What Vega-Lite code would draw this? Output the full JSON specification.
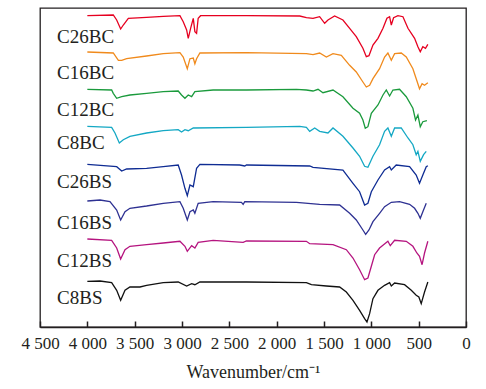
{
"$schema": "https://vega.github.io/schema/vega-lite/v6.json",
"width": 426, "height": 319,
"autosize": {"type": "none"},
"padding": {"left": 40, "top": 8, "right": 20, "bottom": 62},
"background": "white",
"config": {"view": {"stroke": "#231f20", "strokeWidth": 1.3}, "font": "Liberation Serif"},
"datasets": {
"spectra": [
{"s":"C26BC","w":4000,"t":311.3},{"s":"C26BC","w":3726,"t":312},{"s":"C26BC","w":3690,"t":307},{"s":"C26BC","w":3648,"t":298},{"s":"C26BC","w":3620,"t":302},{"s":"C26BC","w":3567,"t":308.7},{"s":"C26BC","w":3374,"t":309.7},{"s":"C26BC","w":3198,"t":310.7},{"s":"C26BC","w":3022,"t":311.3},{"s":"C26BC","w":2987,"t":305.3},{"s":"C26BC","w":2951,"t":297},{"s":"C26BC","w":2934,"t":288.7},{"s":"C26BC","w":2909,"t":298.7},{"s":"C26BC","w":2881,"t":308.7},{"s":"C26BC","w":2864,"t":295.3},{"s":"C26BC","w":2846,"t":293.7},{"s":"C26BC","w":2829,"t":308.7},{"s":"C26BC","w":2804,"t":311.3},{"s":"C26BC","w":2319,"t":311.3},{"s":"C26BC","w":1756,"t":311},{"s":"C26BC","w":1686,"t":309.3},{"s":"C26BC","w":1616,"t":308.7},{"s":"C26BC","w":1546,"t":310.3},{"s":"C26BC","w":1493,"t":303.7},{"s":"C26BC","w":1458,"t":307},{"s":"C26BC","w":1388,"t":311},{"s":"C26BC","w":1300,"t":307},{"s":"C26BC","w":1229,"t":298.7},{"s":"C26BC","w":1159,"t":290.3},{"s":"C26BC","w":1089,"t":278.7},{"s":"C26BC","w":1053,"t":270.3},{"s":"C26BC","w":1025,"t":271.3},{"s":"C26BC","w":983,"t":282},{"s":"C26BC","w":930,"t":288.7},{"s":"C26BC","w":877,"t":298.7},{"s":"C26BC","w":835,"t":308.7},{"s":"C26BC","w":807,"t":310.3},{"s":"C26BC","w":789,"t":302},{"s":"C26BC","w":765,"t":309.3},{"s":"C26BC","w":719,"t":311.3},{"s":"C26BC","w":666,"t":310.3},{"s":"C26BC","w":613,"t":298.7},{"s":"C26BC","w":543,"t":288.7},{"s":"C26BC","w":508,"t":280.3},{"s":"C26BC","w":483,"t":275.3},{"s":"C26BC","w":456,"t":280.3},{"s":"C26BC","w":428,"t":278.7},{"s":"C26BC","w":403,"t":282.7},
{"s":"C16BC","w":4000,"t":275},{"s":"C16BC","w":3726,"t":274},{"s":"C16BC","w":3672,"t":266.7},{"s":"C16BC","w":3637,"t":266.7},{"s":"C16BC","w":3585,"t":268.3},{"s":"C16BC","w":3374,"t":271},{"s":"C16BC","w":3198,"t":273.3},{"s":"C16BC","w":3022,"t":274.3},{"s":"C16BC","w":2987,"t":270},{"s":"C16BC","w":2944,"t":258.3},{"s":"C16BC","w":2916,"t":268.3},{"s":"C16BC","w":2881,"t":269},{"s":"C16BC","w":2864,"t":263.3},{"s":"C16BC","w":2846,"t":268.3},{"s":"C16BC","w":2811,"t":274},{"s":"C16BC","w":2319,"t":274.3},{"s":"C16BC","w":1686,"t":273.3},{"s":"C16BC","w":1616,"t":272.3},{"s":"C16BC","w":1546,"t":274},{"s":"C16BC","w":1475,"t":270},{"s":"C16BC","w":1405,"t":273.3},{"s":"C16BC","w":1317,"t":271.7},{"s":"C16BC","w":1229,"t":261.7},{"s":"C16BC","w":1159,"t":255},{"s":"C16BC","w":1089,"t":245},{"s":"C16BC","w":1053,"t":240},{"s":"C16BC","w":1018,"t":241.7},{"s":"C16BC","w":983,"t":248.3},{"s":"C16BC","w":913,"t":258.3},{"s":"C16BC","w":860,"t":270},{"s":"C16BC","w":825,"t":274},{"s":"C16BC","w":789,"t":266.7},{"s":"C16BC","w":754,"t":273.3},{"s":"C16BC","w":684,"t":274},{"s":"C16BC","w":631,"t":270},{"s":"C16BC","w":561,"t":258.3},{"s":"C16BC","w":526,"t":248.3},{"s":"C16BC","w":491,"t":238.3},{"s":"C16BC","w":464,"t":243.3},{"s":"C16BC","w":438,"t":241.7},{"s":"C16BC","w":403,"t":244.3},
{"s":"C12BC","w":4000,"t":237.7},{"s":"C12BC","w":3743,"t":237},{"s":"C12BC","w":3726,"t":233.7},{"s":"C12BC","w":3690,"t":228.7},{"s":"C12BC","w":3637,"t":230.3},{"s":"C12BC","w":3550,"t":232},{"s":"C12BC","w":3374,"t":233.7},{"s":"C12BC","w":3198,"t":235.3},{"s":"C12BC","w":3040,"t":236},{"s":"C12BC","w":3005,"t":232},{"s":"C12BC","w":2969,"t":228.7},{"s":"C12BC","w":2934,"t":232},{"s":"C12BC","w":2898,"t":230.3},{"s":"C12BC","w":2864,"t":235.3},{"s":"C12BC","w":2671,"t":237},{"s":"C12BC","w":2319,"t":237},{"s":"C12BC","w":1791,"t":237.7},{"s":"C12BC","w":1686,"t":237},{"s":"C12BC","w":1616,"t":236},{"s":"C12BC","w":1563,"t":237.7},{"s":"C12BC","w":1511,"t":234.3},{"s":"C12BC","w":1405,"t":237},{"s":"C12BC","w":1300,"t":230.3},{"s":"C12BC","w":1194,"t":218.7},{"s":"C12BC","w":1124,"t":213.7},{"s":"C12BC","w":1089,"t":207},{"s":"C12BC","w":1064,"t":198.7},{"s":"C12BC","w":1036,"t":200.3},{"s":"C12BC","w":1000,"t":213.7},{"s":"C12BC","w":930,"t":222},{"s":"C12BC","w":877,"t":232},{"s":"C12BC","w":842,"t":237},{"s":"C12BC","w":807,"t":231},{"s":"C12BC","w":772,"t":237},{"s":"C12BC","w":702,"t":237.7},{"s":"C12BC","w":631,"t":230.3},{"s":"C12BC","w":561,"t":218.7},{"s":"C12BC","w":533,"t":207},{"s":"C12BC","w":508,"t":212},{"s":"C12BC","w":483,"t":200.3},{"s":"C12BC","w":456,"t":205.3},{"s":"C12BC","w":413,"t":206.3},
{"s":"C8BC","w":4000,"t":200.7},{"s":"C8BC","w":3743,"t":199.7},{"s":"C8BC","w":3708,"t":194},{"s":"C8BC","w":3662,"t":184},{"s":"C8BC","w":3620,"t":187.3},{"s":"C8BC","w":3550,"t":190.7},{"s":"C8BC","w":3374,"t":194},{"s":"C8BC","w":3198,"t":196.3},{"s":"C8BC","w":3040,"t":197.3},{"s":"C8BC","w":3005,"t":195},{"s":"C8BC","w":2969,"t":197.3},{"s":"C8BC","w":2934,"t":196.3},{"s":"C8BC","w":2881,"t":199},{"s":"C8BC","w":2319,"t":199.7},{"s":"C8BC","w":1756,"t":200.7},{"s":"C8BC","w":1686,"t":199.7},{"s":"C8BC","w":1651,"t":195.7},{"s":"C8BC","w":1598,"t":199},{"s":"C8BC","w":1546,"t":195.7},{"s":"C8BC","w":1458,"t":194},{"s":"C8BC","w":1405,"t":199},{"s":"C8BC","w":1300,"t":190.7},{"s":"C8BC","w":1194,"t":179},{"s":"C8BC","w":1124,"t":170.7},{"s":"C8BC","w":1071,"t":160.7},{"s":"C8BC","w":1036,"t":159.7},{"s":"C8BC","w":983,"t":170.7},{"s":"C8BC","w":913,"t":182.3},{"s":"C8BC","w":860,"t":195.7},{"s":"C8BC","w":825,"t":199},{"s":"C8BC","w":789,"t":190.7},{"s":"C8BC","w":754,"t":199},{"s":"C8BC","w":684,"t":199},{"s":"C8BC","w":613,"t":189},{"s":"C8BC","w":561,"t":182.3},{"s":"C8BC","w":526,"t":172.3},{"s":"C8BC","w":508,"t":175.7},{"s":"C8BC","w":483,"t":165.7},{"s":"C8BC","w":448,"t":172.3},{"s":"C8BC","w":420,"t":175.7},
{"s":"C26BS","w":4000,"t":162.7},{"s":"C26BS","w":3690,"t":160.3},{"s":"C26BS","w":3637,"t":156},{"s":"C26BS","w":3585,"t":158},{"s":"C26BS","w":3374,"t":158.7},{"s":"C26BS","w":3198,"t":160.3},{"s":"C26BS","w":3040,"t":162},{"s":"C26BS","w":3005,"t":152},{"s":"C26BS","w":2969,"t":138.7},{"s":"C26BS","w":2944,"t":131.3},{"s":"C26BS","w":2916,"t":142},{"s":"C26BS","w":2881,"t":140.3},{"s":"C26BS","w":2846,"t":158.7},{"s":"C26BS","w":2811,"t":162.7},{"s":"C26BS","w":2390,"t":162},{"s":"C26BS","w":2337,"t":161},{"s":"C26BS","w":2319,"t":162},{"s":"C26BS","w":1651,"t":161},{"s":"C26BS","w":1616,"t":159.7},{"s":"C26BS","w":1300,"t":157},{"s":"C26BS","w":1194,"t":143.7},{"s":"C26BS","w":1124,"t":135.3},{"s":"C26BS","w":1071,"t":122},{"s":"C26BS","w":1036,"t":123.7},{"s":"C26BS","w":1000,"t":135.3},{"s":"C26BS","w":930,"t":147},{"s":"C26BS","w":860,"t":157},{"s":"C26BS","w":807,"t":160.3},{"s":"C26BS","w":789,"t":157},{"s":"C26BS","w":737,"t":162},{"s":"C26BS","w":596,"t":160.3},{"s":"C26BS","w":526,"t":152},{"s":"C26BS","w":491,"t":143.7},{"s":"C26BS","w":456,"t":152},{"s":"C26BS","w":420,"t":160.3},{"s":"C26BS","w":403,"t":161.3},
{"s":"C16BS","w":4000,"t":126},{"s":"C16BS","w":3866,"t":127},{"s":"C16BS","w":3761,"t":125.3},{"s":"C16BS","w":3690,"t":117},{"s":"C16BS","w":3648,"t":107},{"s":"C16BS","w":3602,"t":115.3},{"s":"C16BS","w":3550,"t":118.7},{"s":"C16BS","w":3374,"t":121},{"s":"C16BS","w":3198,"t":123.7},{"s":"C16BS","w":3022,"t":125.3},{"s":"C16BS","w":2987,"t":118.7},{"s":"C16BS","w":2944,"t":107},{"s":"C16BS","w":2916,"t":115.3},{"s":"C16BS","w":2881,"t":117},{"s":"C16BS","w":2864,"t":113.7},{"s":"C16BS","w":2829,"t":123.7},{"s":"C16BS","w":2671,"t":125.3},{"s":"C16BS","w":2372,"t":124.7},{"s":"C16BS","w":2354,"t":122.7},{"s":"C16BS","w":2337,"t":125.3},{"s":"C16BS","w":1791,"t":124.7},{"s":"C16BS","w":1546,"t":122.7},{"s":"C16BS","w":1335,"t":122},{"s":"C16BS","w":1229,"t":113.7},{"s":"C16BS","w":1159,"t":107},{"s":"C16BS","w":1089,"t":97},{"s":"C16BS","w":1060,"t":92.7},{"s":"C16BS","w":1025,"t":97},{"s":"C16BS","w":983,"t":105.3},{"s":"C16BS","w":913,"t":113.7},{"s":"C16BS","w":860,"t":120.3},{"s":"C16BS","w":789,"t":124.7},{"s":"C16BS","w":702,"t":125.3},{"s":"C16BS","w":596,"t":122.7},{"s":"C16BS","w":543,"t":118.7},{"s":"C16BS","w":508,"t":113.7},{"s":"C16BS","w":483,"t":108.7},{"s":"C16BS","w":456,"t":115.3},{"s":"C16BS","w":420,"t":123.7},
{"s":"C12BS","w":4000,"t":88},{"s":"C12BS","w":3743,"t":86.7},{"s":"C12BS","w":3690,"t":79},{"s":"C12BS","w":3648,"t":68},{"s":"C12BS","w":3602,"t":77.3},{"s":"C12BS","w":3550,"t":80.7},{"s":"C12BS","w":3374,"t":82.3},{"s":"C12BS","w":3198,"t":84},{"s":"C12BS","w":3022,"t":85.7},{"s":"C12BS","w":2969,"t":80.7},{"s":"C12BS","w":2944,"t":75.7},{"s":"C12BS","w":2898,"t":81.3},{"s":"C12BS","w":2864,"t":79},{"s":"C12BS","w":2829,"t":84.7},{"s":"C12BS","w":2671,"t":86.7},{"s":"C12BS","w":2354,"t":84.7},{"s":"C12BS","w":2319,"t":86},{"s":"C12BS","w":1686,"t":85.7},{"s":"C12BS","w":1651,"t":83.3},{"s":"C12BS","w":1405,"t":82.3},{"s":"C12BS","w":1264,"t":77.3},{"s":"C12BS","w":1194,"t":69},{"s":"C12BS","w":1124,"t":57.3},{"s":"C12BS","w":1071,"t":47.3},{"s":"C12BS","w":1036,"t":49},{"s":"C12BS","w":1000,"t":60.7},{"s":"C12BS","w":965,"t":72.3},{"s":"C12BS","w":913,"t":79},{"s":"C12BS","w":825,"t":85.7},{"s":"C12BS","w":800,"t":81.3},{"s":"C12BS","w":754,"t":86.7},{"s":"C12BS","w":631,"t":85.7},{"s":"C12BS","w":561,"t":80.7},{"s":"C12BS","w":519,"t":74},{"s":"C12BS","w":491,"t":70.7},{"s":"C12BS","w":464,"t":62.3},{"s":"C12BS","w":438,"t":74},{"s":"C12BS","w":403,"t":85.7},
{"s":"C8BS","w":4000,"t":45.7},{"s":"C8BS","w":3866,"t":46},{"s":"C8BS","w":3743,"t":44.3},{"s":"C8BS","w":3690,"t":36.7},{"s":"C8BS","w":3648,"t":26.7},{"s":"C8BS","w":3602,"t":36.7},{"s":"C8BS","w":3550,"t":40},{"s":"C8BS","w":3444,"t":40},{"s":"C8BS","w":3374,"t":41.7},{"s":"C8BS","w":3198,"t":44.3},{"s":"C8BS","w":3040,"t":45},{"s":"C8BS","w":2951,"t":41},{"s":"C8BS","w":2898,"t":43.3},{"s":"C8BS","w":2864,"t":42.3},{"s":"C8BS","w":2811,"t":45},{"s":"C8BS","w":2319,"t":45},{"s":"C8BS","w":1686,"t":44.3},{"s":"C8BS","w":1633,"t":42.3},{"s":"C8BS","w":1475,"t":41},{"s":"C8BS","w":1335,"t":40},{"s":"C8BS","w":1264,"t":35},{"s":"C8BS","w":1194,"t":26.7},{"s":"C8BS","w":1124,"t":16.7},{"s":"C8BS","w":1071,"t":8.3},{"s":"C8BS","w":1046,"t":5},{"s":"C8BS","w":1018,"t":13.3},{"s":"C8BS","w":983,"t":28.3},{"s":"C8BS","w":930,"t":36.7},{"s":"C8BS","w":860,"t":41.7},{"s":"C8BS","w":807,"t":44.3},{"s":"C8BS","w":789,"t":41},{"s":"C8BS","w":754,"t":44},{"s":"C8BS","w":649,"t":42.3},{"s":"C8BS","w":578,"t":36.7},{"s":"C8BS","w":526,"t":31.7},{"s":"C8BS","w":498,"t":30},{"s":"C8BS","w":473,"t":23.3},{"s":"C8BS","w":438,"t":35},{"s":"C8BS","w":403,"t":45}
],
"labels": [
{"s":"C26BC","w":4320,"t":290.3},{"s":"C16BC","w":4320,"t":254},{"s":"C12BC","w":4320,"t":217},{"s":"C8BC","w":4320,"t":184},
{"s":"C26BS","w":4320,"t":145},{"s":"C16BS","w":4320,"t":104},{"s":"C12BS","w":4320,"t":66},{"s":"C8BS","w":4320,"t":29}
]
},
"layer": [
{
"data": {"name": "spectra"},
"mark": {"type": "line", "strokeWidth": 1.3, "clip": true},
"encoding": {
"x": {"field": "w", "type": "quantitative",
  "scale": {"domain": [0, 4500], "reverse": true, "nice": false},
  "axis": {"values": [4500,4000,3500,3000,2500,2000,1500,1000,500,0],
    "labelExpr": "replace(format(datum.value, ','), ',', ' ')",
    "title": "Wavenumber/cm⁻¹", "titleFont": "Liberation Serif", "titleFontSize": 18, "titleFontWeight": "normal", "titleColor": "#231f20", "titlePadding": 12,
    "labelFont": "Liberation Serif", "labelFontSize": 17, "labelColor": "#231f20", "labelPadding": 14, "labelFlush": false, "labelOverlap": false,
    "tickSize": -6, "tickWidth": 1.5, "tickColor": "#231f20", "domainColor": "#231f20", "domainWidth": 1.3, "grid": false}},
"y": {"field": "t", "type": "quantitative", "scale": {"domain": [0, 319], "nice": false, "zero": false}, "axis": null},
"color": {"field": "s", "type": "nominal",
  "scale": {"domain": ["C26BC","C16BC","C12BC","C8BC","C26BS","C16BS","C12BS","C8BS"],
  "range": ["#e60020","#f08a1c","#1a9a3c","#14a8c4","#0f2c93","#2e3192","#b5147f","#111111"]},
  "legend": null}
}
},
{
"data": {"name": "labels"},
"mark": {"type": "text", "align": "left", "baseline": "middle", "font": "Liberation Serif", "fontSize": 19, "color": "#231f20"},
"encoding": {
"x": {"field": "w", "type": "quantitative"},
"y": {"field": "t", "type": "quantitative"},
"text": {"field": "s"}
}
}
]
}
